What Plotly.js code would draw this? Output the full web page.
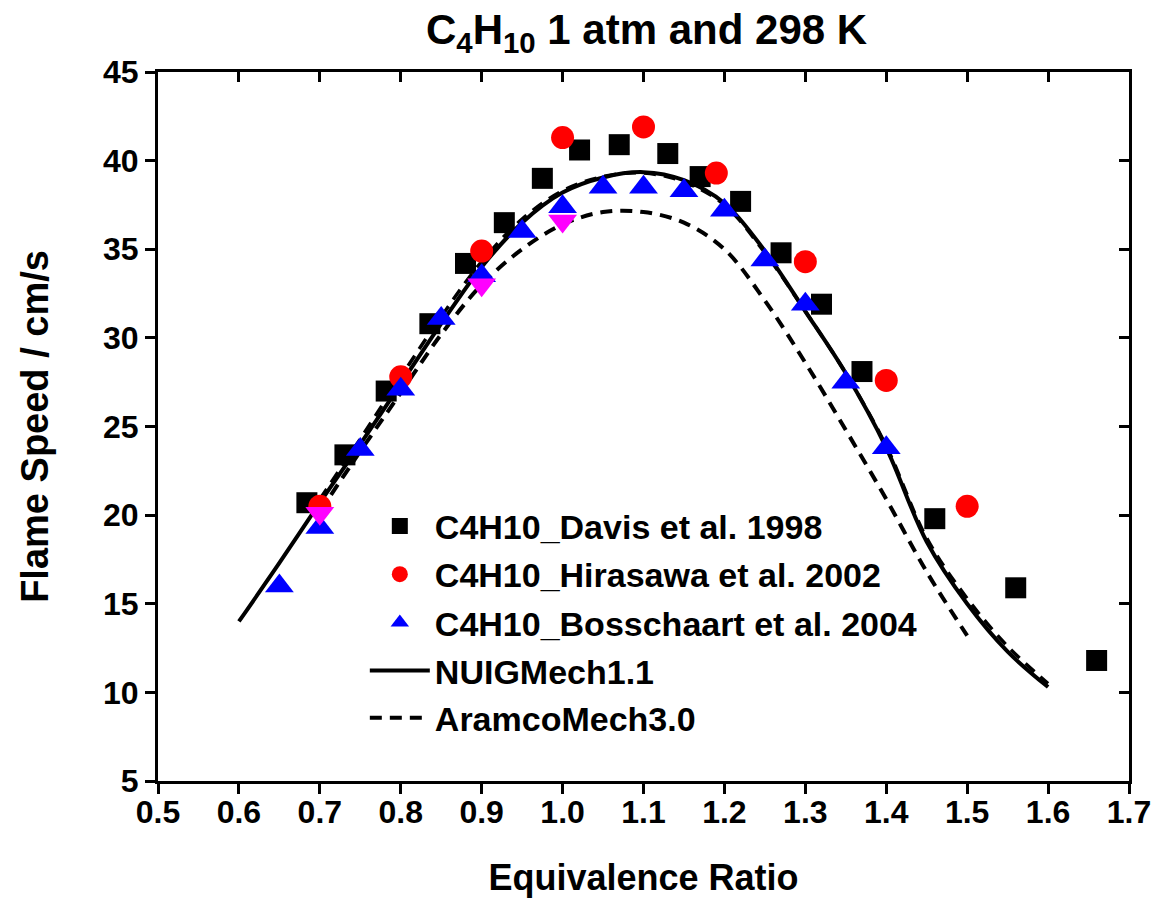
<!DOCTYPE html>
<html>
<head>
<meta charset="utf-8">
<script src="https://cdn.plot.ly/plotly-3.0.1.min.js"></script>
<style>html,body{margin:0;padding:0;background:#fff;}#chart{width:1157px;height:898px;}</style>
</head>
<body>
<div id="chart"></div>
<script>
// ---- data ----
const davisX = [0.684,0.731,0.782,0.836,0.880,0.928,0.975,1.021,1.070,1.130,1.170,1.220,1.270,1.320,1.370,1.460,1.560,1.660];
const davisY = [20.7,23.4,27.0,30.8,34.2,36.5,39.0,40.6,40.9,40.4,39.1,37.7,34.8,31.9,28.1,19.8,15.9,11.8];

const hiraX = [0.70,0.80,0.90,1.00,1.10,1.19,1.30,1.40,1.50];
const hiraY = [20.5,27.8,34.9,41.3,41.9,39.3,34.3,27.6,20.5];

const bossX = [0.65,0.70,0.75,0.80,0.85,0.90,0.95,1.00,1.05,1.10,1.15,1.20,1.25,1.30,1.35,1.40];
const bossY = [16.0,19.3,23.7,27.1,31.1,33.5,36.0,37.4,38.5,38.5,38.3,37.2,34.4,31.9,27.5,23.8];

const magX = [0.70,0.90,1.00];
const magY = [20.1,33.0,36.6];

const nuigX = [0.60,0.65,0.70,0.75,0.80,0.85,0.90,0.95,1.00,1.05,1.10,1.15,1.20,1.25,1.30,1.35,1.40,1.45,1.50,1.55,1.60];
const nuigY = [14.0,17.3,20.7,24.0,27.4,30.8,34.0,36.5,38.2,39.05,39.35,38.9,37.6,34.9,31.5,28.0,23.8,18.5,15.0,12.3,10.3];

const aramX = [0.70,0.75,0.80,0.85,0.90,0.95,1.00,1.05,1.10,1.15,1.20,1.25,1.30,1.35,1.40,1.45,1.50];
const aramY = [20.2,23.6,26.9,30.2,33.0,35.0,36.4,37.1,37.1,36.5,35.0,32.1,28.6,24.8,20.9,16.8,13.2];

const dash2X = [0.70,0.75,0.80,0.85,0.90,0.95,1.00,1.05,1.10,1.15,1.20,1.25,1.30,1.35,1.40,1.45,1.50,1.55,1.60];
const dash2Y = [20.9,24.3,27.8,31.2,34.3,36.7,38.3,39.1,39.3,38.8,37.5,34.8,31.5,28.0,23.9,18.7,15.3,12.6,10.5];

const xRange = [0.5, 1.7];
const yRange = [5, 45];

const FONT = 'Liberation Sans, Arial, Helvetica, sans-serif';

const traces = [
  {x: nuigX, y: nuigY, type: 'scatter', mode: 'lines', name: 'NUIGMech1.1',
   line: {color: '#000', width: 4, shape: 'spline'}, legendgroup: 'lines', legendrank: 4},
  {x: dash2X, y: dash2Y, type: 'scatter', mode: 'lines', showlegend: false,
   line: {color: '#000', width: 3.5, dash: '12px,8px', shape: 'spline'}, hoverinfo: 'skip'},
  {x: aramX, y: aramY, type: 'scatter', mode: 'lines', name: 'AramcoMech3.0',
   line: {color: '#000', width: 4, dash: '12px,8px', shape: 'spline'}, legendgroup: 'lines', legendrank: 5},
  {x: davisX, y: davisY, type: 'scatter', mode: 'markers', name: 'C4H10_Davis et al. 1998',
   marker: {symbol: 'square', size: 21, color: '#000'}, legendgroup: 'g1', legendrank: 1},
  {x: hiraX, y: hiraY, type: 'scatter', mode: 'markers', name: 'C4H10_Hirasawa et al. 2002',
   marker: {symbol: 'circle', size: 23, color: '#ff0000'}, legendgroup: 'g2', legendrank: 2},
  {x: bossX, y: bossY, type: 'scatter', mode: 'markers', name: 'C4H10_Bosschaart et al. 2004',
   marker: {symbol: 'triangle-up', size: 25, color: '#0000ff'}, legendgroup: 'g3', legendrank: 3},
  {x: magX, y: magY, type: 'scatter', mode: 'markers', showlegend: false,
   marker: {symbol: 'triangle-down', size: 25, color: '#ff00ff'}},
  {x: [xRange[0]], y: [yRange[0]], xaxis: 'x2', yaxis: 'y2', type: 'scatter', mode: 'markers',
   marker: {opacity: 0, size: 1}, showlegend: false, hoverinfo: 'skip'}
];

const axCommon = {
  showgrid: false, zeroline: false, showline: true, linecolor: '#000', linewidth: 3,
  ticks: 'outside', ticklen: 10, tickwidth: 3, tickcolor: '#000',
  tickfont: {family: FONT, size: 32, color: '#000', weight: 'bold'}
};

const layout = {
  width: 1157, height: 898,
  paper_bgcolor: '#fff', plot_bgcolor: '#fff',
  margin: {l: 158, r: 28, t: 72, b: 117},
  showlegend: true,
  title: {text: 'C<sub>4</sub>H<sub>10</sub> 1 atm and 298 K', x: 0.5588, xanchor: 'center', y: 0.967, yanchor: 'middle',
          font: {family: FONT, size: 42, color: '#000', weight: 'bold'}},
  xaxis: Object.assign({}, axCommon, {
    range: xRange, dtick: 0.1, tick0: 0.5, tickformat: '.1f', ticklabelstandoff: -9,
    title: {text: 'Equivalence Ratio', standoff: 40, font: {family: FONT, size: 36, color: '#000', weight: 'bold'}}
  }),
  yaxis: Object.assign({}, axCommon, {
    range: yRange, dtick: 5, tick0: 5,
    title: {text: 'Flame Speed / cm/s', standoff: 43, font: {family: FONT, size: 38, color: '#000', weight: 'bold'}}
  }),
  xaxis2: {overlaying: 'x', side: 'top', range: xRange, dtick: 0.1, tick0: 0.5, showgrid: false, zeroline: false,
           showline: true, linecolor: '#000', linewidth: 3, ticks: 'inside', ticklen: 10, tickwidth: 3,
           tickcolor: '#000', showticklabels: false},
  yaxis2: {overlaying: 'y', side: 'right', range: yRange, dtick: 5, tick0: 5, showgrid: false, zeroline: false,
           showline: true, linecolor: '#000', linewidth: 3, ticks: 'inside', ticklen: 10, tickwidth: 3,
           tickcolor: '#000', showticklabels: false},
  legend: {x: 0.213, xanchor: 'left', y: 0.400, yanchor: 'top', bgcolor: 'rgba(0,0,0,0)',
           traceorder: 'grouped', tracegroupgap: 1, itemwidth: 60,
           font: {family: FONT, size: 34, color: '#000', weight: 'bold'}}
};

Plotly.newPlot('chart', traces, layout, {displayModeBar: false, staticPlot: true});
</script>
</body>
</html>
